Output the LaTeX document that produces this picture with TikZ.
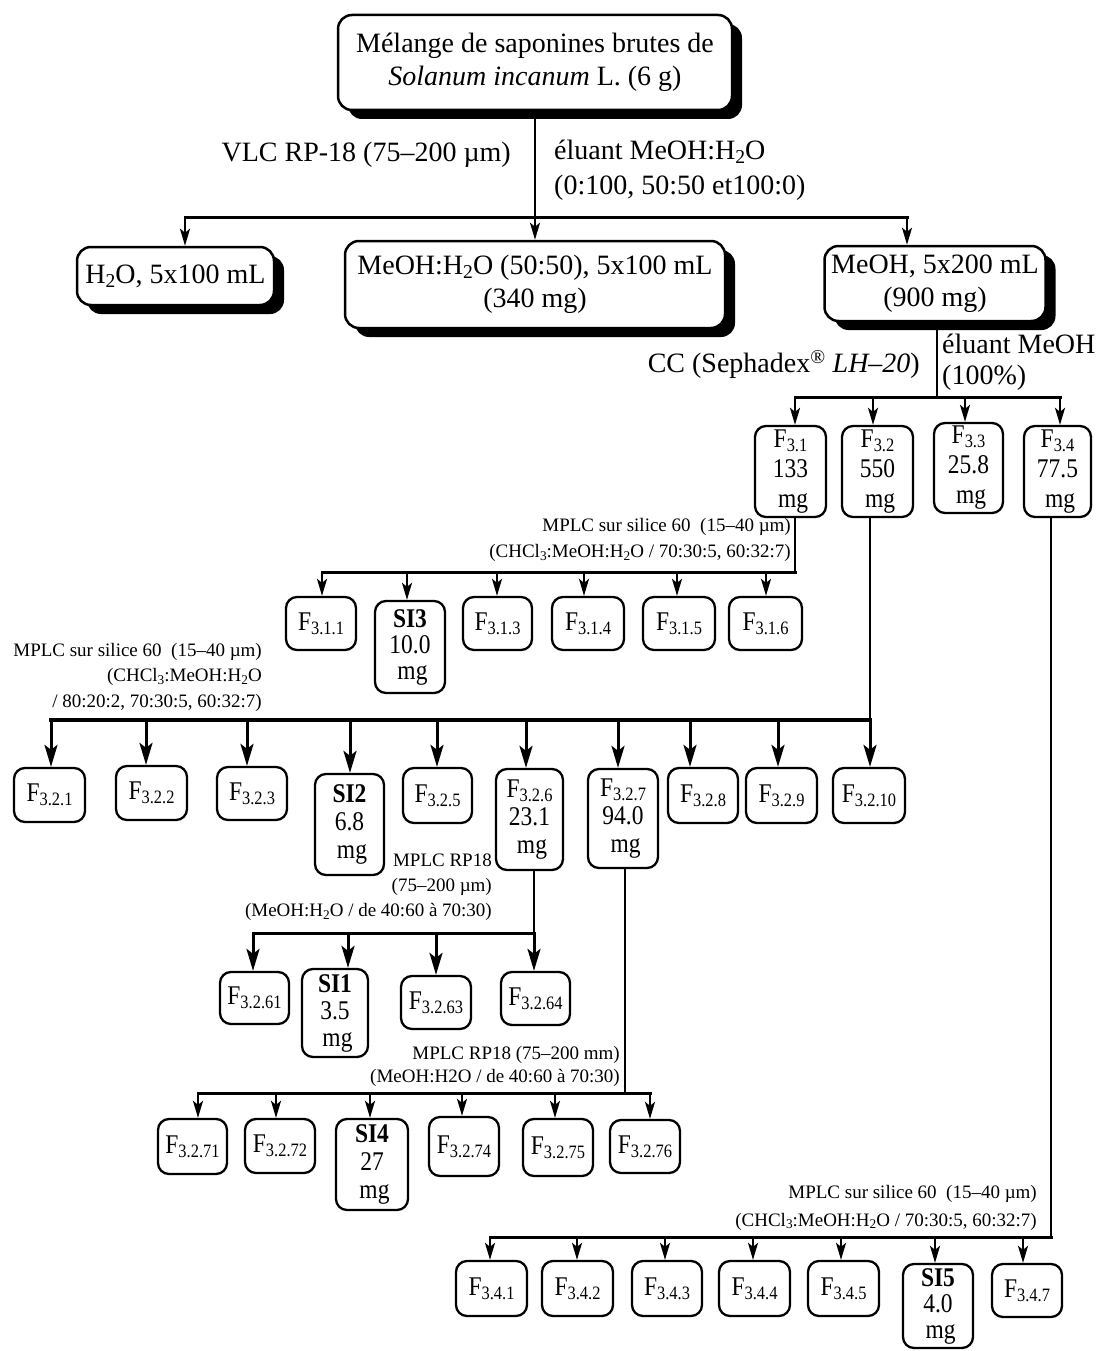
\documentclass[tikz,border=0pt]{standalone}
\usepackage{fontspec}
\setmainfont{Liberation Serif}
\newfontfamily\narrowfont[FakeStretch=0.87]{Liberation Serif}
\usepackage{graphicx}
\usetikzlibrary{arrows.meta,shadows,calc}
\newcommand\sbs[1]{\raisebox{-0.15em}{\scalebox{0.7}{#1}}}
\newcommand\dropto[4]{\draw[#1] ($(#2.north |- #3)+(#4,0)$) -- ($(#2.north)+(#4,0)$);}
\newcommand\stemfrom[3]{\draw[stem] ($(#1.south)+(#3,0)$) -- ($(#1.south |- #2)+(#3,0)$);}
\begin{document}
\begin{tikzpicture}[x=1pt,y=-1pt,
 big/.style={draw,line width=2.5pt,rounded corners=14pt,inner sep=0pt,align=center,
   font=\fontsize{28}{33}\selectfont,fill=white,
   drop shadow={shadow xshift=10pt,shadow yshift=-9pt,fill=black,opacity=1}},
 sbox/.style={draw,line width=2.3pt,rounded corners=11pt,inner sep=0pt,align=center,
   font=\narrowfont\fontsize{27}{28}\selectfont,fill=white},
 biglab/.style={inner sep=0pt,font=\fontsize{28}{35}\selectfont},
 smlab/.style={inner sep=0pt,align=right,font=\fontsize{19}{25.5}\selectfont},
 stem/.style={line width=1.6pt},
 bar/.style={line width=3pt,line cap=rect},
 arrA/.style={line width=3pt,-{Stealth[length=22pt,width=13pt,inset=5pt]}},
 arrB/.style={line width=2.2pt,-{Stealth[length=17pt,width=10pt,inset=4pt]}},
]
\useasboundingbox (0,0) rectangle (1103,1351);

% ---- top level
\node[big,minimum width=394pt,minimum height=95pt] (top) at (535,62.5)
  {Mélange de saponines brutes de\\\textit{Solanum incanum} L. (6 g)};
\node[big,minimum width=197pt,minimum height=58pt] (h2o) at (175.5,276) {H\sbs{2}O, 5x100 mL};
\node[big,minimum width=380pt,minimum height=87pt] (mix) at (535,284.5)
  {MeOH:H\sbs{2}O (50:50), 5x100 mL\\(340 mg)};
\node[big,minimum width=221pt,minimum height=75pt] (meoh) at (935,283.5)
  {MeOH, 5x200 mL\\(900 mg)};

\node[biglab,anchor=east] (vlc) at (511,155) {VLC RP-18 (75–200 µm)};
\node[biglab,anchor=west,align=left] (elu1) at (554,170)
  {éluant MeOH:H\sbs{2}O\\(0:100, 50:50 et100:0)};

\coordinate (b1l) at (185,217);
\coordinate (b1r) at (907,217);
\draw[stem] (top.south) -- (top.south |- b1l);
\draw[bar] (b1l) -- (b1r);
\dropto{arrB}{h2o}{b1l}{9.5}
\dropto{arrB}{mix}{b1l}{0}
\dropto{arrB}{meoh}{b1l}{-28}

% ---- F3 row
\node[biglab,anchor=east] (cc) at (920,364) {CC (Sephadex\textsuperscript{®} \textit{LH–20})};
\node[biglab,anchor=west,align=left,font=\fontsize{28}{31}\selectfont] (elu2) at (942,362)
  {éluant MeOH\\(100\%)};
\coordinate (b2l) at (795,397);
\coordinate (b2r) at (1060,397);
\stemfrom{meoh}{b2l}{2}
\draw[bar] (b2l) -- (b2r);
\node[sbox,minimum width=71pt,minimum height=91pt,font=\narrowfont\fontsize{27}{30}\selectfont] (f31) at (790.5,471.5) {F\sbs{3.1}\\133\\\hspace*{5pt}mg};
\node[sbox,minimum width=71pt,minimum height=91pt,font=\narrowfont\fontsize{27}{30}\selectfont] (f32) at (877.5,471.5) {F\sbs{3.2}\\550\\\hspace*{5pt}mg};
\node[sbox,minimum width=69pt,minimum height=90pt,font=\narrowfont\fontsize{27}{30}\selectfont] (f33) at (968.5,468) {F\sbs{3.3}\\25.8\\\hspace*{5pt}mg};
\node[sbox,minimum width=67pt,minimum height=91pt,font=\narrowfont\fontsize{27}{30}\selectfont] (f34) at (1057.5,471.5) {F\sbs{3.4}\\77.5\\\hspace*{5pt}mg};
\dropto{arrB}{f31}{b2l}{4.5}
\dropto{arrB}{f32}{b2l}{-4.5}
\dropto{arrB}{f33}{b2l}{-3.5}
\dropto{arrB}{f34}{b2l}{2.5}

% ---- F3.1.x row
\node[smlab,anchor=east,font=\fontsize{19}{26}\selectfont] (lab31) at (791,540)
  {MPLC sur silice 60\ \ (15–40 µm)\\(CHCl\sbs{3}:MeOH:H\sbs{2}O / 70:30:5, 60:32:7)};
\coordinate (b3l) at (322,572);
\coordinate (b3r) at (795,572);
\stemfrom{f31}{b3l}{4.5}
\draw[bar] (b3l) -- (b3r);
\node[sbox,minimum width=70pt,minimum height=53pt] (f311) at (321,623.5) {F\sbs{3.1.1}};
\node[sbox,minimum width=70pt,minimum height=92pt,font=\narrowfont\fontsize{27}{26}\selectfont] (si3) at (410,647) {\textbf{SI3}\\10.0\\\hspace*{5pt}mg};
\node[sbox,minimum width=69pt,minimum height=53pt] (f313) at (497.5,623.5) {F\sbs{3.1.3}};
\node[sbox,minimum width=72pt,minimum height=53pt] (f314) at (588,623.5) {F\sbs{3.1.4}};
\node[sbox,minimum width=72pt,minimum height=53pt] (f315) at (679,623.5) {F\sbs{3.1.5}};
\node[sbox,minimum width=73pt,minimum height=53pt] (f316) at (765.5,623.5) {F\sbs{3.1.6}};
\dropto{arrB}{f311}{b3l}{1}
\dropto{arrB}{si3}{b3l}{-3}
\dropto{arrB}{f313}{b3l}{-0.5}
\dropto{arrB}{f314}{b3l}{-4}
\dropto{arrB}{f315}{b3l}{-2}
\dropto{arrB}{f316}{b3l}{0.5}

% ---- F3.2.x row
\node[smlab,anchor=east] (lab32) at (262,677)
  {MPLC sur silice 60\ \ (15–40 µm)\\(CHCl\sbs{3}:MeOH:H\sbs{2}O\\/ 80:20:2, 70:30:5, 60:32:7)};
\coordinate (b4l) at (51,720);
\coordinate (b4r) at (870,720);
\stemfrom{f32}{b4l}{-7.5}
\draw[bar,line width=3.5pt] (b4l) -- (b4r);
\node[sbox,minimum width=71pt,minimum height=54pt] (f321) at (49.5,795) {F\sbs{3.2.1}};
\node[sbox,minimum width=71pt,minimum height=54pt] (f322) at (151.5,793) {F\sbs{3.2.2}};
\node[sbox,minimum width=70pt,minimum height=53pt] (f323) at (252,793.5) {F\sbs{3.2.3}};
\node[sbox,minimum width=69pt,minimum height=101pt] (si2) at (349.5,824.5) {\textbf{SI2}\\6.8\\\hspace*{5pt}mg};
\node[sbox,minimum width=69pt,minimum height=55pt] (f325) at (437.5,795.5) {F\sbs{3.2.5}};
\node[sbox,minimum width=67pt,minimum height=101pt] (f326) at (529.5,819.5) {F\sbs{3.2.6}\\23.1\\\hspace*{5pt}mg};
\node[sbox,minimum width=70pt,minimum height=99pt] (f327) at (623,818.5) {F\sbs{3.2.7}\\94.0\\\hspace*{5pt}mg};
\node[sbox,minimum width=70pt,minimum height=55pt] (f328) at (703,795.5) {F\sbs{3.2.8}};
\node[sbox,minimum width=71pt,minimum height=55pt] (f329) at (781.5,795.5) {F\sbs{3.2.9}};
\node[sbox,minimum width=72pt,minimum height=55pt] (f3210) at (869,795.5) {F\sbs{3.2.10}};
\dropto{arrA}{f321}{b4l}{1.5}
\dropto{arrA}{f322}{b4l}{-5.5}
\dropto{arrA}{f323}{b4l}{-5}
\dropto{arrA}{si2}{b4l}{0.5}
\dropto{arrA}{f325}{b4l}{-0.5}
\dropto{arrA}{f326}{b4l}{-3.5}
\dropto{arrA}{f327}{b4l}{-5}
\dropto{arrA}{f328}{b4l}{-13}
\dropto{arrA}{f329}{b4l}{-3.5}
\dropto{arrA}{f3210}{b4l}{1}

% ---- F3.2.6x row
\node[smlab,anchor=east,font=\fontsize{19}{25}\selectfont] (lab326) at (492,887)
  {MPLC RP18\\(75–200 µm)\\(MeOH:H\sbs{2}O / de 40:60 à 70:30)};
\coordinate (b5l) at (253,933);
\coordinate (b5r) at (534,933);
\stemfrom{f326}{b5l}{4.5}
\draw[bar] (b5l) -- (b5r);
\node[sbox,minimum width=69pt,minimum height=52pt] (f3261) at (254.5,998) {F\sbs{3.2.61}};
\node[sbox,minimum width=66pt,minimum height=88pt,font=\narrowfont\fontsize{27}{27}\selectfont] (si1) at (335,1013) {\textbf{SI1}\\3.5\\\hspace*{5pt}mg};
\node[sbox,minimum width=70pt,minimum height=53pt] (f3263) at (436,1002.5) {F\sbs{3.2.63}};
\node[sbox,minimum width=69pt,minimum height=53pt] (f3264) at (535.5,998.5) {F\sbs{3.2.64}};
\dropto{arrA}{f3261}{b5l}{-1.5}
\dropto{arrA}{si1}{b5l}{13}
\dropto{arrA}{f3263}{b5l}{0}
\dropto{arrA}{f3264}{b5l}{-1.5}

% ---- F3.2.7x row
\node[smlab,anchor=east,font=\fontsize{19}{23}\selectfont] (lab327) at (620,1066)
  {MPLC RP18 (75–200 mm)\\(MeOH:H2O / de 40:60 à 70:30)};
\coordinate (b6l) at (198,1093);
\coordinate (b6r) at (650,1093);
\stemfrom{f327}{b6l}{2}
\draw[bar] (b6l) -- (b6r);
\node[sbox,minimum width=69pt,minimum height=55pt] (f3271) at (192.5,1146.5) {F\sbs{3.2.71}};
\node[sbox,minimum width=70pt,minimum height=54pt] (f3272) at (280,1146) {F\sbs{3.2.72}};
\node[sbox,minimum width=72pt,minimum height=91pt] (si4) at (372,1164.5) {\textbf{SI4}\\27\\\hspace*{5pt}mg};
\node[sbox,minimum width=70pt,minimum height=59pt] (f3274) at (464,1146.5) {F\sbs{3.2.74}};
\node[sbox,minimum width=70pt,minimum height=57pt] (f3275) at (558,1147.5) {F\sbs{3.2.75}};
\node[sbox,minimum width=70pt,minimum height=53pt] (f3276) at (645,1146.5) {F\sbs{3.2.76}};
\dropto{arrB}{f3271}{b6l}{5.5}
\dropto{arrB}{f3272}{b6l}{-4}
\dropto{arrB}{si4}{b6l}{-2}
\dropto{arrB}{f3274}{b6l}{-2}
\dropto{arrB}{f3275}{b6l}{-3}
\dropto{arrB}{f3276}{b6l}{5}

% ---- F3.4.x row
\node[smlab,anchor=east,font=\fontsize{19}{28}\selectfont] (lab34) at (1037,1207.5)
  {MPLC sur silice 60\ \ (15–40 µm)\\(CHCl\sbs{3}:MeOH:H\sbs{2}O / 70:30:5, 60:32:7)};
\coordinate (b7l) at (490,1237);
\coordinate (b7r) at (1051,1237);
\stemfrom{f34}{b7l}{-6.5}
\draw[bar] (b7l) -- (b7r);
\node[sbox,minimum width=71pt,minimum height=55pt] (f341) at (491.5,1288.5) {F\sbs{3.4.1}};
\node[sbox,minimum width=71pt,minimum height=55pt] (f342) at (577.5,1288.5) {F\sbs{3.4.2}};
\node[sbox,minimum width=70pt,minimum height=55pt] (f343) at (667,1288.5) {F\sbs{3.4.3}};
\node[sbox,minimum width=71pt,minimum height=55pt] (f344) at (754.5,1288.5) {F\sbs{3.4.4}};
\node[sbox,minimum width=71pt,minimum height=55pt] (f345) at (843.5,1288.5) {F\sbs{3.4.5}};
\node[sbox,minimum width=70pt,minimum height=84pt,font=\narrowfont\fontsize{27}{26}\selectfont] (si5) at (938,1306) {\textbf{SI5}\\4.0\\\hspace*{5pt}mg};
\node[sbox,minimum width=70pt,minimum height=53pt] (f347) at (1027,1290.5) {F\sbs{3.4.7}};
\dropto{arrB}{f341}{b7l}{-1.5}
\dropto{arrB}{f342}{b7l}{-0.5}
\dropto{arrB}{f343}{b7l}{-2}
\dropto{arrB}{f344}{b7l}{-1.5}
\dropto{arrB}{f345}{b7l}{-2.5}
\dropto{arrB}{si5}{b7l}{-3}
\dropto{arrB}{f347}{b7l}{-4}
\end{tikzpicture}
\end{document}
